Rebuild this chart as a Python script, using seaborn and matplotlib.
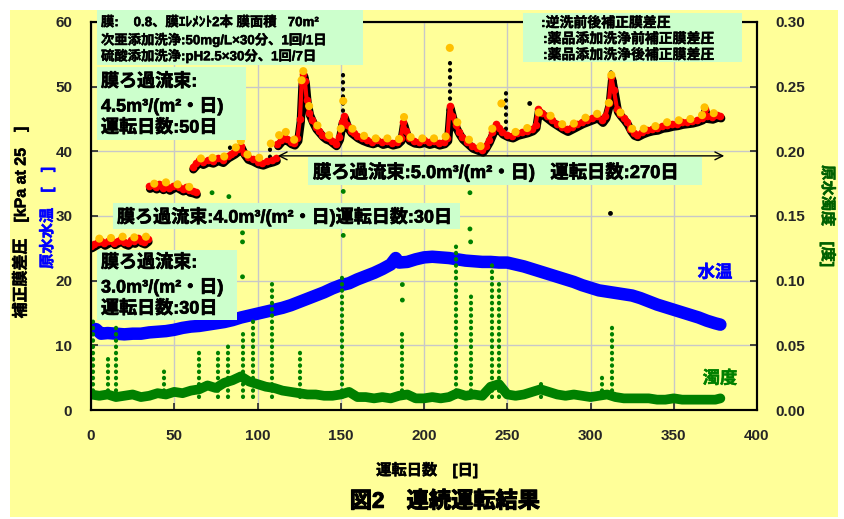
import numpy as np
import pandas as pd
import matplotlib
matplotlib.use("Agg")
import matplotlib.pyplot as plt
import matplotlib.transforms as mtransforms
import matplotlib.patheffects as pe
from matplotlib.patches import Rectangle
import seaborn as sns

W, H = 844, 519

# ---- corrected membrane pressure (kPa), one list per flux phase ----
p1_days = [0, 2, 4, 6, 8, 10, 12, 14, 16, 18, 20, 22, 24, 26, 28, 30, 32, 34]
p1_kpa = [25.4, 25.7, 26.0, 26.2, 25.8, 26.1, 26.4, 25.9, 26.2, 26.5, 26.0,
          25.8, 26.3, 26.1, 26.6, 26.2, 26.0, 26.4]

p2_days = [35, 37, 39, 41, 43, 45, 47, 49, 51, 53, 55, 57, 59, 61, 63]
p2_kpa = [34.6, 34.8, 34.5, 34.9, 34.4, 34.7, 34.3, 34.6, 34.8, 34.5, 34.2,
          34.5, 34.0, 33.9, 33.7]

p3_days = [61, 63, 65, 67, 70, 73, 76, 79, 82, 84, 86, 88, 90, 92, 94, 97,
           100, 103, 106, 109, 111]
p3_kpa = [37.6, 38.2, 38.6, 38.3, 38.7, 38.5, 38.9, 38.6, 39.3, 39.6, 39.9,
          40.3, 40.9, 39.8, 39.1, 38.8, 38.4, 38.2, 38.5, 38.7, 38.9]

p4_days = [112, 114, 116, 118, 120, 122, 124, 125.5, 126.5, 127.5, 128.5, 129.5,
           131, 133, 135, 137, 139, 141, 143, 145, 147, 149, 150.5, 152, 154,
           156, 158, 160, 163, 166, 169, 172, 175, 178, 181, 184, 186, 187.5,
           189, 191, 194, 197, 200, 203, 206, 209, 212, 214, 215.5, 217, 219,
           221, 223, 226, 229, 232, 235, 237, 239, 241, 243, 245, 247, 250,
           253, 256, 259, 262, 265, 267, 268.5, 271, 274, 277, 280, 283, 286,
           289, 292, 295, 298, 301, 304, 307, 309, 311, 312.5, 314, 316, 318,
           320, 322, 324, 326, 328, 331, 334, 337, 340, 343, 346, 349, 352,
           355, 358, 361, 364, 367, 368.5, 370, 373, 376, 378]
p4_kpa = [41.2, 41.8, 42.2, 41.9, 41.5, 41.3, 42.0, 45.0, 50.5, 52.0, 50.8, 48.0,
          46.0, 44.8, 43.8, 43.2, 42.6, 42.2, 42.0, 41.6, 41.2, 42.2, 44.5, 45.5,
          44.0, 43.2, 42.8, 42.4, 42.0, 41.7, 41.5, 41.8, 41.4, 41.6, 41.3, 41.5,
          42.0, 44.5, 43.2, 42.0, 41.6, 41.5, 41.7, 41.4, 41.6, 41.3, 41.5, 42.0,
          47.0, 45.5, 44.0, 43.0, 42.2, 41.5, 40.8, 40.5, 40.2, 40.9, 41.8, 43.0,
          44.2, 43.6, 43.0, 42.6, 42.4, 42.8, 43.0, 43.2, 43.5, 44.0, 46.5, 46.0,
          45.4, 44.8, 44.3, 43.8, 43.4, 43.8, 44.2, 44.6, 44.9, 45.2, 45.5, 44.8,
          45.5, 47.5, 51.5, 49.5, 46.5, 45.8, 45.2, 44.5, 43.5, 42.8, 42.6, 43.0,
          43.3, 43.5, 43.6, 43.9, 44.0, 44.2, 44.3, 44.5, 44.6, 44.7, 44.9, 45.2,
          46.6, 45.4, 45.3, 45.6, 45.5]

# after-chemical-cleaning points (yellow)
yel_days = [5, 12, 19, 26, 33, 38, 45, 52, 59, 66, 73, 80, 87, 90, 94, 101, 108,
            113, 117, 122, 126.5, 127.5, 131, 136, 143, 150, 151.5, 157, 164,
            171, 178, 185, 188, 192, 199, 206, 213, 215.5, 220, 227, 234, 241,
            246.5, 255, 262, 269, 276, 283, 290, 297, 304, 311, 312.5, 318, 325,
            332, 339, 346, 353, 360, 367, 368.5, 374]
yel_kpa = [26.5, 26.6, 26.8, 26.7, 26.8, 35.0, 35.2, 34.9, 34.5, 38.9, 39.0,
           39.2, 40.6, 41.6, 39.5, 39.0, 41.2, 42.5, 43.0, 41.8, 51.0, 52.4, 47.0,
           44.0, 42.5, 43.5, 47.8, 43.5, 42.4, 42.0, 42.0, 41.9, 45.3, 42.2, 42.0,
           42.0, 42.3, 56.0, 44.5, 41.8, 40.8, 43.5, 47.4, 43.0, 43.6, 46.0, 45.5,
           44.2, 44.3, 45.2, 45.8, 47.5, 51.8, 46.0, 43.5, 43.5, 43.9, 44.5, 44.8,
           45.0, 45.6, 46.8, 45.9]

# black outliers before/after backwash
blk_spike_days = [83.5, 107.5, 127.5, 151.5, 215.5, 249, 312.5]
blk_spike_lo = [39.5, 39.2, 50.0, 44.0, 46.0, 43.5, 50.0]
blk_spike_hi = [41.5, 40.8, 53.2, 52.5, 54.0, 50.0, 52.8]
blk_dot_days = [217.5, 263.5, 312]
blk_dot_kpa = [43.6, 47.4, 30.4]

# ---- raw water temperature (deg C) ----
temp_days = [0, 3, 6, 10, 15, 20, 25, 30, 35, 40, 45, 50, 55, 60, 65, 70, 75, 80,
             85, 90, 95, 100, 105, 110, 115, 120, 125, 130, 135, 140, 145, 150,
             155, 160, 165, 170, 175, 180, 183, 185, 190, 195, 200, 205, 210,
             215, 220, 225, 230, 235, 240, 245, 250, 255, 260, 265, 270, 275,
             280, 285, 290, 295, 300, 305, 310, 315, 320, 325, 330, 335, 340,
             345, 350, 355, 360, 365, 370, 375, 378]
temp_c = [12.6, 12.5, 11.8, 11.9, 11.8, 11.7, 11.8, 11.8, 12.0, 12.1, 12.2, 12.4,
          12.7, 12.9, 13.0, 13.2, 13.4, 13.6, 13.9, 14.3, 14.6, 14.9, 15.2, 15.5,
          15.8, 16.2, 16.7, 17.2, 17.7, 18.2, 18.8, 19.3, 19.6, 20.2, 20.7, 21.2,
          21.8, 22.5, 23.5, 22.8, 22.9, 23.3, 23.6, 23.7, 23.6, 23.5, 23.3, 23.1,
          23.0, 22.9, 22.9, 22.8, 22.8, 22.5, 22.2, 21.8, 21.4, 21.0, 20.6, 20.2,
          19.8, 19.3, 18.9, 18.5, 18.3, 18.1, 17.9, 17.7, 17.3, 16.8, 16.3, 15.9,
          15.5, 15.1, 14.7, 14.3, 13.8, 13.4, 13.2]

# ---- raw water turbidity (degree) ----
turb_days = [0, 5, 10, 15, 20, 25, 30, 35, 40, 45, 50, 55, 60, 65, 70, 75, 80, 85,
             90, 95, 100, 105, 110, 115, 120, 125, 130, 135, 140, 145, 150, 155,
             160, 165, 170, 175, 180, 185, 190, 195, 200, 205, 210, 215, 220, 225,
             230, 235, 240, 245, 250, 255, 260, 265, 270, 275, 280, 285, 290, 295,
             300, 305, 310, 315, 320, 325, 330, 335, 340, 345, 350, 355, 360, 365,
             370, 375, 378]
turb = [0.012, 0.011, 0.012, 0.010, 0.011, 0.012, 0.010, 0.011, 0.013, 0.012,
        0.014, 0.013, 0.015, 0.016, 0.019, 0.017, 0.021, 0.023, 0.026, 0.022,
        0.020, 0.018, 0.017, 0.015, 0.014, 0.013, 0.012, 0.012, 0.011, 0.011,
        0.012, 0.014, 0.010, 0.010, 0.009, 0.010, 0.009, 0.011, 0.012, 0.009,
        0.009, 0.010, 0.009, 0.010, 0.013, 0.011, 0.012, 0.011, 0.018, 0.020,
        0.012, 0.011, 0.012, 0.014, 0.016, 0.014, 0.012, 0.011, 0.012, 0.011,
        0.010, 0.011, 0.012, 0.010, 0.009, 0.009, 0.009, 0.009, 0.008, 0.008,
        0.009, 0.008, 0.008, 0.008, 0.008, 0.008, 0.009]
turb_spike_days = [1, 10, 15, 44, 65, 76, 82, 91, 97, 109, 125.5, 151, 187, 219,
                   228, 241, 245, 270, 307, 313]
turb_spike_top = [0.070, 0.041, 0.068, 0.031, 0.049, 0.049, 0.052, 0.062, 0.070,
                  0.100, 0.045, 0.105, 0.060, 0.128, 0.090, 0.114, 0.100, 0.022,
                  0.027, 0.067]
turb_dot_days = [72.7, 82.8, 91, 91, 91, 151.5, 151.5, 227.6, 227.6, 187, 187, 228]
turb_dot_val = [0.168, 0.165, 0.137, 0.130, 0.103, 0.169, 0.135, 0.168, 0.140,
                0.097, 0.085, 0.130]

# ---- build tables ----
press = pd.concat([
    pd.DataFrame({'day': d, 'kpa': v, 'phase': i})
    for i, (d, v) in enumerate([(p1_days, p1_kpa), (p2_days, p2_kpa),
                                (p3_days, p3_kpa), (p4_days, p4_kpa)])
], ignore_index=True)
temp = pd.DataFrame({'day': temp_days, 'temp': temp_c})
turbidity = pd.DataFrame({'day': turb_days, 'turb': turb})

sns.set_style("ticks")
plt.rcParams['font.family'] = ['Liberation Sans', 'Noto Sans CJK JP']
plt.rcParams['font.weight'] = 'bold'

YELLOW = '#FFFF99'
BOXGREEN = '#CCFFCC'

fig = plt.figure(figsize=(W / 100, H / 100), dpi=100, facecolor='white')
fig.add_artist(Rectangle((10 / W, 2 / H), 828 / W, 1 - 12 / H,
                         transform=fig.transFigure, facecolor=YELLOW,
                         edgecolor='none', zorder=-10))

ax = fig.add_axes([91 / W, 1 - 410 / H, 666 / W, 388 / H])
ax.set_facecolor(YELLOW)
ax2 = ax.twinx()
ax2.patch.set_visible(False)

# water temperature band
sns.lineplot(data=temp, x='day', y='temp', color='#0000FF', lw=9,
             estimator=None, sort=False, ax=ax, legend=False)

# pressure: black band (shifted slightly down), red chain, yellow dots
n0 = len(ax.lines)
sns.lineplot(data=press, x='day', y='kpa', units='phase', estimator=None,
             color='black', lw=6, sort=False, ax=ax, legend=False)
shift = mtransforms.ScaledTranslation(0.6 / 72, -1.8 / 72, fig.dpi_scale_trans)
for ln in ax.lines[n0:]:
    ln.set_transform(ln.get_transform() + shift)
lc = ax.vlines(blk_spike_days, blk_spike_lo, blk_spike_hi, color='black',
               lw=3, linestyles=(0, (0.1, 1.6)))
lc.set_capstyle('round')
sns.scatterplot(x=blk_dot_days, y=blk_dot_kpa, color='black', s=12,
                edgecolor='none', ax=ax)
sns.lineplot(data=press, x='day', y='kpa', units='phase', estimator=None,
             color='red', lw=3, marker='o', markersize=5.5,
             markeredgewidth=0, sort=False, ax=ax, legend=False)
sns.scatterplot(x=yel_days, y=yel_kpa, color='#FFC000', s=34,
                edgecolor='none', ax=ax, zorder=4)

# turbidity on right axis
sns.lineplot(data=turbidity, x='day', y='turb', color='#008000', lw=7,
             estimator=None, sort=False, ax=ax2, legend=False)
lc2 = ax2.vlines(turb_spike_days, 0.010, turb_spike_top, color='#008000',
                 lw=3, linestyles=(0, (0.1, 1.4)))
lc2.set_capstyle('round')
sns.scatterplot(x=turb_dot_days, y=turb_dot_val, color='#008000', s=12,
                edgecolor='none', ax=ax2)

ax.annotate('', xy=(382, 39.3), xytext=(110.5, 39.3),
            arrowprops=dict(arrowstyle='<->', color='black', lw=1,
                            mutation_scale=14), annotation_clip=False)

# axes styling
ax.set_xlim(0, 400)
ax.set_ylim(0, 60)
ax2.set_ylim(0, 0.30)
ax.set_xticks(range(0, 401, 50))
ax.set_yticks(range(0, 61, 10))
ax2.set_yticks(np.arange(0, 0.301, 0.05))
ax2.set_yticklabels([f'{v:.2f}' for v in np.arange(0, 0.301, 0.05)])
ax.set_xlabel('')
ax.set_ylabel('')
ax2.set_ylabel('')
ax.set_axisbelow(True)
ax.grid(True, color='#C8C8C8', lw=1)
ax.tick_params(direction='in', length=5, width=1.2, labelsize=11, pad=13.5)
ax2.tick_params(direction='in', length=5, width=1.2, labelsize=11, pad=13)
for a in (ax, ax2):
    for sp in a.spines.values():
        sp.set_visible(True)
        sp.set_color('black')
        sp.set_linewidth(1.5)


def box(x0, y0, x1, y1):
    fig.add_artist(Rectangle((x0 / W, 1 - y1 / H), (x1 - x0) / W, (y1 - y0) / H,
                             transform=fig.transFigure, facecolor=BOXGREEN,
                             edgecolor='none', zorder=5))


def txt(x, y, s, size, color='black', stroke=0.35, **kw):
    kw.setdefault('ha', 'left')
    kw.setdefault('va', 'center')
    fig.text(x / W, 1 - y / H, s, fontsize=size, color=color,
             fontweight='bold', zorder=6,
             path_effects=[pe.withStroke(linewidth=stroke, foreground=color)],
             **kw)


box(97, 10, 363, 65)
txt(101, 23, '膜:    0.8、膜ｴﾚﾒﾝﾄ2本 膜面積   70m²', 9.6)
txt(101, 40, '次亜添加洗浄:50mg/L×30分、1回/1日', 9.6)
txt(101, 56, '硫酸添加洗浄:pH2.5×30分、1回/7日', 9.6)

box(97, 67, 246, 140)
txt(101, 82, '膜ろ過流束:', 13, stroke=0.5)
txt(101, 106, '4.5m³/(m²・日)', 13, stroke=0.5)
txt(101, 128, '運転日数:50日', 13, stroke=0.5)

box(523, 13, 742, 62)
txt(541, 23, ':逆洗前後補正膜差圧', 10)
txt(543, 39, ':薬品添加洗浄前補正膜差圧', 10)
txt(543, 55, ':薬品添加洗浄後補正膜差圧', 10)

box(308, 157, 702, 185)
txt(313, 172, '膜ろ過流束:5.0m³/(m²・日)   運転日数:270日', 13.2, stroke=0.5)

box(113, 203, 460, 229)
txt(117, 217, '膜ろ過流束:4.0m³/(m²・日)運転日数:30日', 13, stroke=0.5)

box(97, 250, 237, 320)
txt(101, 263, '膜ろ過流束:', 13, stroke=0.5)
txt(101, 287, '3.0m³/(m²・日)', 13, stroke=0.5)
txt(101, 309, '運転日数:30日', 13, stroke=0.5)

txt(715, 272, '水温', 12.5, color='#0000FF', ha='center')
txt(720, 378, '濁度', 12.5, color='#008000', ha='center')

txt(20, 222, '補正膜差圧　[kPa at 25　]', 11.5, rotation=90, ha='center')
txt(47, 218, '原水水温　[　]', 11, color='#0000FF', rotation=90, ha='center')
txt(828, 216, '原水濁度　[度]', 11, color='#006000', rotation=270, ha='center')

txt(427, 470, '運転日数　[日]', 11, ha='center')
txt(445, 502, '図2　連続運転結果', 16, ha='center', stroke=0.8)

fig.savefig('out.png', dpi=100, facecolor='white')
